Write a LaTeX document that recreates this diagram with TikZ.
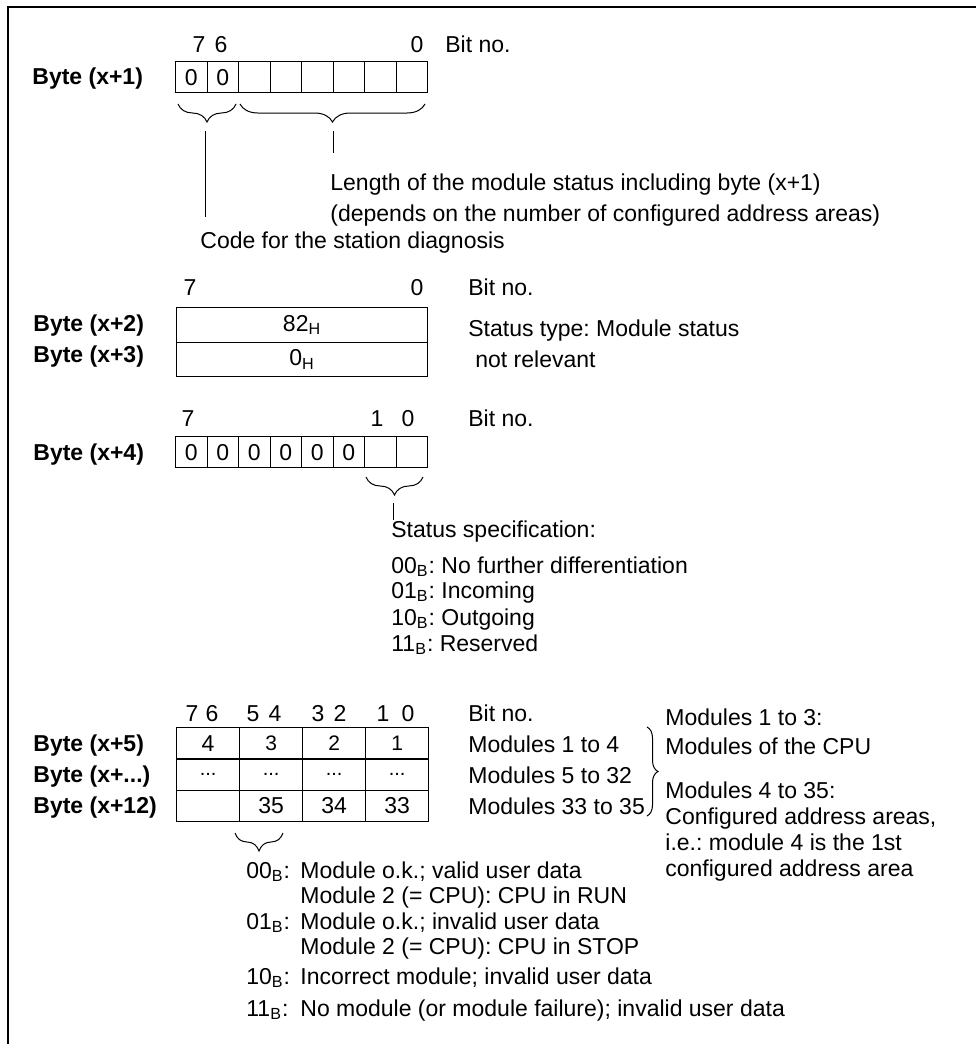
\documentclass[tikz,border=0pt]{standalone}
\usepackage{fontspec}
\setmainfont{Liberation Sans}
\frenchspacing
\usetikzlibrary{decorations.pathreplacing}

\tikzset{
  lbl/.style={inner sep=0pt, font=\fontsize{11.5}{13.8}\selectfont},
  txt/.style={lbl, anchor=base west},
  num/.style={lbl, anchor=base},
  bytelbl/.style={txt, font=\fontsize{11.5}{13.8}\selectfont\bfseries},
  bitcell/.style={draw, line width=0.6pt, inner sep=0pt, anchor=north west,
    minimum width=15.75pt, minimum height=15.5pt, font=\fontsize{11.5}{13.8}\selectfont},
  wordcell/.style={bitcell, minimum width=125.5pt, minimum height=17.25pt},
  modcell/.style={bitcell, minimum width=31.5pt, minimum height=15.65pt},
  bracedown/.style={decorate, decoration={brace, amplitude=9pt}, line width=0.5pt},
  braceright/.style={decorate, decoration={brace, amplitude=5.5pt}, line width=0.5pt},
  lead/.style={line width=0.5pt},
  frame/.style={line width=0.8pt}
}

\begin{document}
\begin{tikzpicture}[x=0.5pt,y=-0.5pt]
  \useasboundingbox (0,0) rectangle (976,1044);
  \draw[frame] (8,1044) -- (8,7) -- (976,7);

  % byte x+1
  \node[bytelbl] (lb1) at (32,84) {Byte (x+1)};
  \foreach \i in {0,...,7}
    \node[bitcell] (ba\i) at ({175+31.5*\i},61) {\ifnum\i<2 0\fi};
  \node[num] (na7) at (199,53) {7};
  \node[num] (na6) at (221,53) {6};
  \node[num] (na0) at (417,53) {0};
  \node[txt] (bna) at (445,53) {Bit no.};
  \draw[bracedown] (236,104) -- (178,104);
  \draw[bracedown] (425,104) -- (240,104);
  \coordinate (ta) at (205,131);
  \coordinate (ca) at (205,217);
  \coordinate (tb) at (333,131);
  \coordinate (cb) at (333,153);
  \node[txt] (len) at (330,190) {Length of the module status including byte (x+1)};
  \node[txt] (dep) at (330,221) {(depends on the number of configured address areas)};
  \node[txt] (code) at (200,248) {Code for the station diagnosis};
  \draw[lead] (ta) -- (ca);
  \draw[lead] (tb) -- (cb);

  % byte x+2, x+3
  \node[num] (nb7) at (190,295) {7};
  \node[num] (nb0) at (417,295) {0};
  \node[txt] (bnb) at (468,295) {Bit no.};
  \node[bytelbl] (lb2) at (33,331) {Byte (x+2)};
  \node[bytelbl] (lb3) at (33,362) {Byte (x+3)};
  \node[wordcell] (bw2) at (176,307) {82\textsubscript{H}};
  \node[wordcell] (bw3) at (176,341.5) {0\textsubscript{H}};
  \node[txt] (stype) at (468,336) {Status type: Module status};
  \node[txt] (nrel) at (475,367) {not relevant};

  % byte x+4
  \node[num] (nc7) at (188,426) {7};
  \node[num] (nc1) at (377,426) {1};
  \node[num] (nc0) at (408,426) {0};
  \node[txt] (bnc) at (468,426) {Bit no.};
  \node[bytelbl] (lb4) at (33,460) {Byte (x+4)};
  \foreach \i in {0,...,7}
    \node[bitcell] (bd\i) at ({175+31.5*\i},436) {\ifnum\i<6 0\fi};
  \draw[bracedown] (423,477) -- (366,477);
  \coordinate (tc) at (393,503);
  \node[txt] (sspec) at (391,537) {Status specification:};
  \draw[lead] (tc) -- (tc |- sspec.north);
  \node[txt] (sp0) at (391,573) {00\textsubscript{B}: No further differentiation};
  \node[txt] (sp1) at (391,598) {01\textsubscript{B}: Incoming};
  \node[txt] (sp2) at (391,625) {10\textsubscript{B}: Outgoing};
  \node[txt] (sp3) at (391,651) {11\textsubscript{B}: Reserved};

  % byte x+5 ... x+12
  \foreach \x/\b in {192/7,212/6,253/5,275/4,318/3,340/2,383/1,408/0}
    \node[num] (nd\b) at (\x,721) {\b};
  \node[txt] (bnd) at (468,721) {Bit no.};
  \node[bytelbl] (lb5) at (33,751) {Byte (x+5)};
  \node[bytelbl] (lb6) at (33,782) {Byte (x+...)};
  \node[bytelbl] (lb12) at (33,813) {Byte (x+12)};
  \node[modcell] (m00) at (176,727) {4};
  \foreach \c/\v in {1/3,2/2,3/1}
    \node[modcell, font=\fontsize{10.5}{12}\selectfont] (m0\c) at ({176+63*\c},727) {\v};
  \foreach \c in {0,...,3}
    \node[modcell, font=\fontsize{10}{12}\selectfont] (m1\c) at ({176+63*\c},758.3) {...};
  \node[modcell] (m20) at (176,789.6) {};
  \foreach \c/\v in {1/35,2/34,3/33}
    \node[modcell] (m2\c) at ({176+63*\c},789.6) {\v};
  \node[txt] (mod1) at (468,752) {Modules 1 to 4};
  \node[txt] (mod2) at (468,783) {Modules 5 to 32};
  \node[txt] (mod3) at (468,814) {Modules 33 to 35};
  \draw[braceright] (647,727) -- (647,816);
  \node[txt] (cpu1) at (665,725) {Modules 1 to 3:};
  \node[txt] (cpu2) at (665,754) {Modules of the CPU};
  \node[txt] (cfg1) at (665,798) {Modules 4 to 35:};
  \node[txt] (cfg2) at (665,824) {Configured address areas,};
  \node[txt] (cfg3) at (665,850) {i.e.: module 4 is the 1st};
  \node[txt] (cfg4) at (665,876) {configured address area};
  \draw[bracedown] (283,833) -- (235,833);

  % codes for bits 5,4
  \node[txt] (k0) at (246,878) {00\textsubscript{B}:};
  \node[txt] (k1) at (246,929) {01\textsubscript{B}:};
  \node[txt] (k2) at (246,984) {10\textsubscript{B}:};
  \node[txt] (k3) at (246,1016) {11\textsubscript{B}:};
  \node[txt] (s0) at (300,878) {Module o.k.; valid user data};
  \node[txt] (s1) at (300,903) {Module 2 (= CPU): CPU in RUN};
  \node[txt] (s2) at (300,929) {Module o.k.; invalid user data};
  \node[txt] (s3) at (300,954) {Module 2 (= CPU): CPU in STOP};
  \node[txt] (s4) at (300,984) {Incorrect module; invalid user data};
  \node[txt] (s5) at (300,1016) {No module (or module failure); invalid user data};
\end{tikzpicture}
\end{document}
